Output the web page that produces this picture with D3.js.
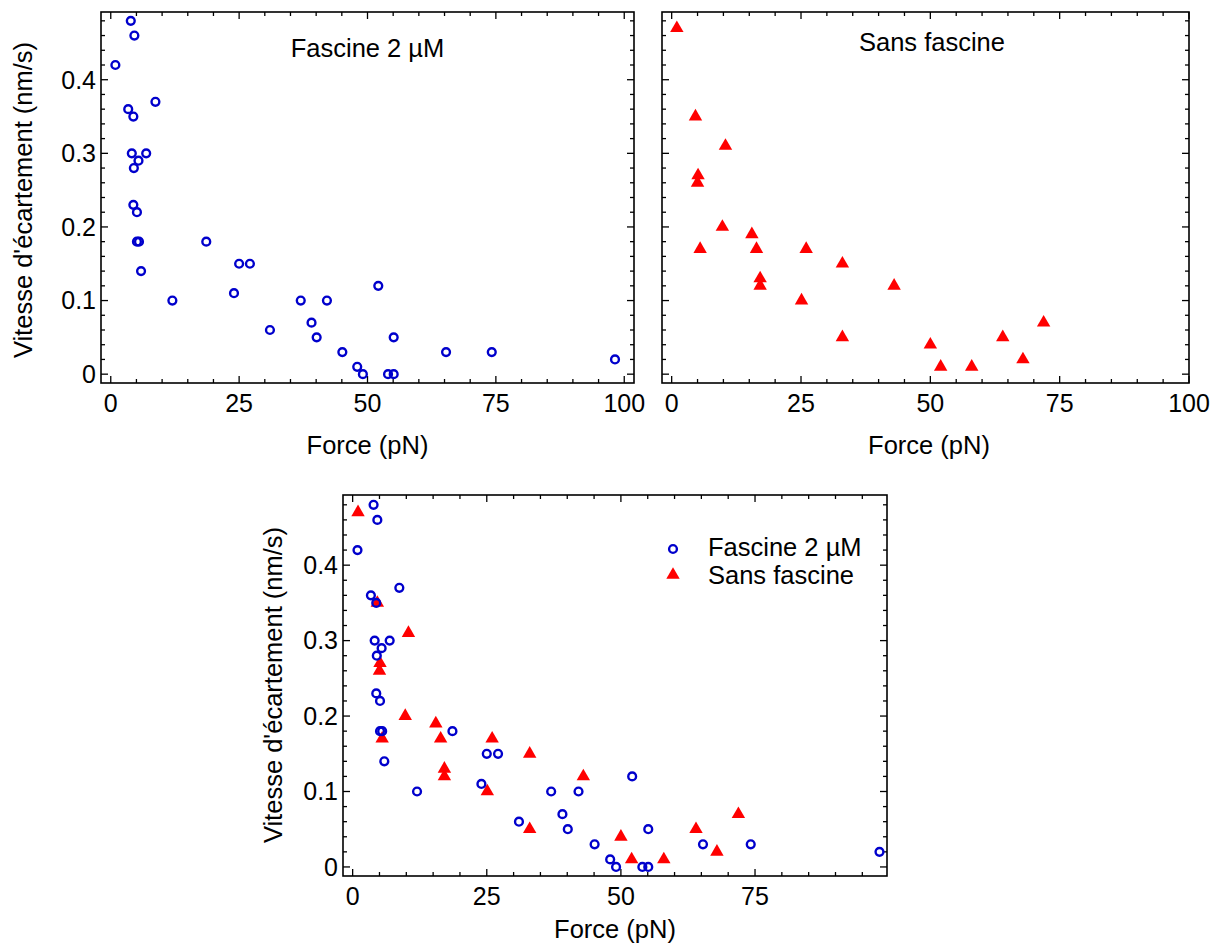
<!DOCTYPE html>
<html>
<head>
<meta charset="utf-8">
<script src="https://cdn.jsdelivr.net/npm/d3@7"></script>
<style>
  html, body { margin: 0; padding: 0; background: #fff; }
  svg { display: block; }
  text { font-family: "Liberation Sans", Arial, Helvetica, sans-serif; fill: #000; }
</style>
</head>
<body>
<svg id="chart" width="1219" height="946"></svg>
<script>
// ---------------- DATA ----------------
const fascineForce = [0.9, 3.9, 4.6, 3.4, 4.4, 8.7, 4.1, 6.9, 5.4, 4.5, 4.4, 5.1, 5.1, 5.5, 5.9,
  12.0, 18.6, 24.0, 25.0, 27.1, 31.0, 37.0, 39.1, 40.1, 42.1, 45.1, 48.0, 49.1, 52.1, 54.0,
  55.1, 55.1, 65.3, 74.2, 98.2];
const fascineSpeed = [0.42, 0.48, 0.46, 0.36, 0.35, 0.37, 0.30, 0.30, 0.29, 0.28, 0.23, 0.22, 0.18, 0.18, 0.14,
  0.10, 0.18, 0.11, 0.15, 0.15, 0.06, 0.10, 0.07, 0.05, 0.10, 0.03, 0.01, 0.00, 0.12, 0.00,
  0.00, 0.05, 0.03, 0.03, 0.02];

const sansForce = [1.0, 4.6, 10.4, 5.1, 5.0, 9.8, 5.5, 15.5, 16.4, 17.1, 17.1, 26.0, 25.1,
  33.0, 33.0, 43.0, 50.0, 52.0, 58.0, 64.0, 67.9, 71.9];
const sansSpeed = [0.47, 0.35, 0.31, 0.27, 0.26, 0.20, 0.17, 0.19, 0.17, 0.13, 0.12, 0.17, 0.10,
  0.15, 0.05, 0.12, 0.04, 0.01, 0.01, 0.05, 0.02, 0.07];

const xMajorTicks = [0, 25, 50, 75, 100];
const xTickLabels = ["0", "25", "50", "75", "100"];
const yMajorTicks = [0, 0.1, 0.2, 0.3, 0.4];
const yTickLabels = ["0", "0.1", "0.2", "0.3", "0.4"];
const xMinorStep = 5;
const yMinorStep = 0.02;

const seriesNames = ["Fascine 2 µM", "Sans fascine"];
const xAxisTitle = "Force (pN)";
const yAxisTitle = "Vitesse d'écartement (nm/s)";

// ---------------- STYLE ----------------
const BLUE = "#0000cc";
const RED = "#ff0000";
const FONT_TICK = 25;
const FONT_TITLE = 25.5;
const CIRCLE_R = 3.9;
const CIRCLE_SW = 2.4;

const fascine = fascineForce.map((f, i) => ({ x: f, y: fascineSpeed[i] }));
const sans = sansForce.map((f, i) => ({ x: f, y: sansSpeed[i] }));

const svg = d3.select("#chart");

function drawPanel(cfg) {
  const x = d3.scaleLinear().domain(cfg.xDomain).range([cfg.left, cfg.right]);
  const y = d3.scaleLinear().domain(cfg.yDomain).range([cfg.bottom, cfg.top]);
  const g = svg.append("g");
  const w = cfg.right - cfg.left, h = cfg.bottom - cfg.top;
  const inX = v => v >= cfg.xDomain[0] && v <= cfg.xDomain[1];
  const inY = v => v >= cfg.yDomain[0] && v <= cfg.yDomain[1];

  const xMinor = d3.range(0, 101, xMinorStep).filter(inX);
  const yMinor = d3.range(0, 50).map(i => +(i * yMinorStep).toFixed(3)).filter(inY);
  const xMaj = xMajorTicks.filter(inX);
  const yMaj = yMajorTicks.filter(inY);
  const isMajX = v => xMajorTicks.includes(v);
  const isMajY = v => yMajorTicks.some(t => Math.abs(t - v) < 1e-9);

  const MAJ = 7, MIN = 4;

  const tickG = g.append("g").attr("stroke", "#000").attr("stroke-width", 1.3);
  xMinor.forEach(v => {
    const L = isMajX(v) ? MAJ : MIN;
    tickG.append("line").attr("x1", x(v)).attr("x2", x(v)).attr("y1", cfg.bottom).attr("y2", cfg.bottom - L);
    tickG.append("line").attr("x1", x(v)).attr("x2", x(v)).attr("y1", cfg.top).attr("y2", cfg.top + L);
  });
  yMinor.forEach(v => {
    const L = isMajY(v) ? MAJ : MIN;
    tickG.append("line").attr("y1", y(v)).attr("y2", y(v)).attr("x1", cfg.left).attr("x2", cfg.left + L);
    tickG.append("line").attr("y1", y(v)).attr("y2", y(v)).attr("x1", cfg.right).attr("x2", cfg.right - L);
  });

  g.append("rect").attr("x", cfg.left).attr("y", cfg.top).attr("width", w).attr("height", h)
    .attr("fill", "none").attr("stroke", "#000").attr("stroke-width", 1.6);

  g.selectAll(".xl").data(xMaj).join("text")
    .attr("x", d => x(d)).attr("y", cfg.bottom + 29)
    .attr("text-anchor", "middle").attr("font-size", FONT_TICK)
    .text(d => xTickLabels[xMajorTicks.indexOf(d)]);

  if (cfg.yLabels) {
    g.selectAll(".yl").data(yMaj).join("text")
      .attr("x", cfg.left - 5).attr("y", d => y(d) + 8.8)
      .attr("text-anchor", "end").attr("font-size", FONT_TICK)
      .text(d => yTickLabels[yMajorTicks.indexOf(d)]);
    g.append("text")
      .attr("transform", `translate(${cfg.yTitleX},${cfg.yTitleY}) rotate(-90)`)
      .attr("text-anchor", "middle").attr("font-size", FONT_TITLE)
      .text(yAxisTitle);
  }

  g.append("text").attr("x", cfg.xTitleX).attr("y", cfg.xTitleY)
    .attr("text-anchor", "middle").attr("font-size", FONT_TITLE).text(xAxisTitle);

  if (cfg.title) {
    g.append("text").attr("x", cfg.title.x).attr("y", cfg.title.y)
      .attr("text-anchor", "middle").attr("font-size", FONT_TITLE).text(cfg.title.text);
  }

  const tri = d3.symbol(d3.symbolTriangle, 78);
  if (cfg.showSans) {
    g.append("g").selectAll("path").data(sans).join("path")
      .attr("d", tri).attr("fill", RED)
      .attr("transform", d => `translate(${x(d.x)},${y(d.y)})`);
  }
  if (cfg.showFascine) {
    g.append("g").selectAll("circle").data(fascine).join("circle")
      .attr("cx", d => x(d.x)).attr("cy", d => y(d.y)).attr("r", CIRCLE_R)
      .attr("fill", "none").attr("stroke", BLUE).attr("stroke-width", CIRCLE_SW);
  }

  if (cfg.legend) {
    const L = cfg.legend;
    const lg = g.append("g");
    lg.append("circle").attr("cx", L.x).attr("cy", L.y).attr("r", CIRCLE_R)
      .attr("fill", "none").attr("stroke", BLUE).attr("stroke-width", CIRCLE_SW);
    lg.append("path").attr("d", tri).attr("fill", RED)
      .attr("transform", `translate(${L.x},${L.y + L.dy})`);
    lg.append("text").attr("x", L.tx).attr("y", L.y + 7).attr("font-size", FONT_TITLE).text(seriesNames[0]);
    lg.append("text").attr("x", L.tx).attr("y", L.y + L.dy + 9).attr("font-size", FONT_TITLE).text(seriesNames[1]);
  }
}

drawPanel({
  left: 101, right: 634, top: 12, bottom: 383,
  xDomain: [-1.9, 101.9], yDomain: [-0.012, 0.492],
  yLabels: true, yTitleX: 32, yTitleY: 200, xTitleX: 367.5, xTitleY: 454,
  title: { text: seriesNames[0], x: 367.5, y: 57 },
  showFascine: true, showSans: false
});

drawPanel({
  left: 662, right: 1189, top: 12, bottom: 383,
  xDomain: [-1.87, 100], yDomain: [-0.012, 0.492],
  yLabels: false, xTitleX: 929, xTitleY: 454,
  title: { text: seriesNames[1], x: 932, y: 51 },
  showFascine: false, showSans: true
});

drawPanel({
  left: 343, right: 887, top: 495, bottom: 876,
  xDomain: [-1.8, 99.6], yDomain: [-0.012, 0.493],
  yLabels: true, yTitleX: 282, yTitleY: 685, xTitleX: 615, xTitleY: 938,
  showFascine: true, showSans: true,
  legend: { x: 673, y: 549, dy: 26, tx: 708 }
});
</script>
</body>
</html>
